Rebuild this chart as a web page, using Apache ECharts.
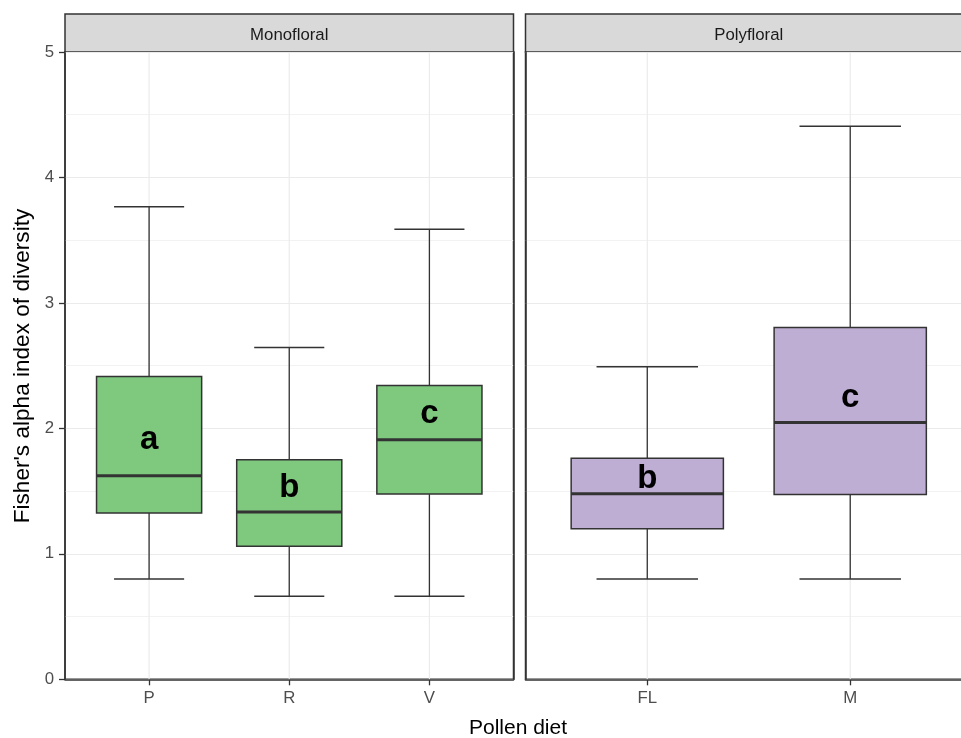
<!DOCTYPE html>
<html>
<head>
<meta charset="utf-8">
<script src="https://cdn.jsdelivr.net/npm/echarts@6/dist/echarts.min.js"></script>
<style>
  html, body { margin: 0; padding: 0; background: #fff; }
  #chart { width: 961px; height: 738px; }
</style>
</head>
<body>
<div id="chart"></div>
<script>
// Fisher's alpha diversity by pollen diet, faceted by Monofloral / Polyfloral
const panelNames = ['Monofloral', 'Polyfloral'];

const monoCats = ['P', 'R', 'V'];
const monoLow = [0.80, 0.662, 0.662];
const monoQ1 = [1.325, 1.061, 1.476];
const monoMed = [1.622, 1.333, 1.910];
const monoQ3 = [2.413, 1.750, 2.341];
const monoHigh = [3.767, 2.644, 3.587];
const monoLetters = ['a', 'b', 'c'];
const monoLetterY = [1.905, 1.525, 2.115];

const polyCats = ['FL', 'M'];
const polyLow = [0.80, 0.80];
const polyQ1 = [1.199, 1.473];
const polyMed = [1.479, 2.047];
const polyQ3 = [1.761, 2.804];
const polyHigh = [2.492, 4.408];
const polyLetters = ['b', 'c'];
const polyLetterY = [1.595, 2.245];

const yTicks = [0, 1, 2, 3, 4, 5];

const GREEN = '#7FC97F';
const PURPLE = '#BEAED4';
const INK = '#333333';
const GRID = '#EBEBEB';
const FONT = 'Liberation Sans, Arial, sans-serif';
const TICK_FONT = 16.8;

function rows(low, q1, med, q3, high, letterY) {
  return low.map((_, i) => [i + 1, low[i], q1[i], med[i], q3[i], high[i], letterY[i]]);
}

function boxRenderer(fill, letters) {
  return function (params, api) {
    const x = api.value(0);
    const lo = api.value(1), q1 = api.value(2), md = api.value(3),
          q3 = api.value(4), hi = api.value(5), ly = api.value(6);
    const c = (xx, yy) => api.coord([xx, yy]);
    const halfBox = 0.375, halfCap = 0.25;
    const pTL = c(x - halfBox, q3), pBR = c(x + halfBox, q1);
    const line = (a, b, w) => ({
      type: 'line', shape: { x1: a[0], y1: a[1], x2: b[0], y2: b[1] },
      style: { stroke: INK, lineWidth: w }
    });
    return {
      type: 'group',
      children: [
        // vertical major grid line through the category
        { type: 'line', shape: { x1: c(x, 0)[0], y1: c(x, 0)[1], x2: c(x, 5)[0], y2: c(x, 5)[1] },
          style: { stroke: GRID, lineWidth: 1.2 } },
        line(c(x, lo), c(x, q1), 1.3),
        line(c(x, q3), c(x, hi), 1.3),
        line(c(x - halfCap, lo), c(x + halfCap, lo), 1.5),
        line(c(x - halfCap, hi), c(x + halfCap, hi), 1.5),
        { type: 'rect',
          shape: { x: pTL[0], y: pTL[1], width: pBR[0] - pTL[0], height: pBR[1] - pTL[1] },
          style: { fill: fill, stroke: INK, lineWidth: 1.5 } },
        line(c(x - halfBox, md), c(x + halfBox, md), 3),
        { type: 'text',
          style: { x: c(x, ly)[0], y: c(x, ly)[1], text: letters[params.dataIndex],
                   fill: '#000', font: 'bold 33px ' + FONT, align: 'center', verticalAlign: 'middle' } }
      ]
    };
  };
}

function xAxisFor(cats, gridIndex) {
  const ticks = cats.map((_, i) => i + 1);
  return {
    type: 'value', gridIndex: gridIndex, min: 0.4, max: cats.length + 0.6,
    axisLine: { show: true, onZero: false, lineStyle: { color: INK, width: 1.5 } },
    splitLine: { show: false },
    axisTick: { show: true, customValues: ticks, length: 6, lineStyle: { color: INK, width: 1.3 } },
    axisLabel: { show: true, customValues: ticks, margin: 11, color: '#4D4D4D', fontSize: TICK_FONT, fontFamily: FONT,
                 formatter: v => cats[Math.round(v) - 1] }
  };
}

function yAxisFor(gridIndex, labels) {
  return {
    type: 'value', gridIndex: gridIndex, min: yTicks[0], max: yTicks[yTicks.length - 1], interval: 1,
    axisLine: { show: true, onZero: false, lineStyle: { color: INK, width: 1.5 } },
    axisTick: { show: labels, length: 6, lineStyle: { color: INK, width: 1.3 } },
    axisLabel: { show: labels, margin: 11, color: '#4D4D4D', fontSize: TICK_FONT, fontFamily: FONT },
    splitLine: { show: true, lineStyle: { color: GRID, width: 1.2 } },
    minorTick: { show: false, splitNumber: 2 },
    minorSplitLine: { show: true, lineStyle: { color: '#F2F2F2', width: 1 } }
  };
}

// plain line along the right edge of the first panel (panel border)
function rightEdgeAxis(gridIndex) {
  return {
    type: 'value', gridIndex: gridIndex, position: 'right', min: yTicks[0], max: yTicks[yTicks.length - 1],
    axisLine: { show: true, onZero: false, lineStyle: { color: INK, width: 1.5 } },
    axisTick: { show: false }, axisLabel: { show: false }, splitLine: { show: false }
  };
}

const chart = echarts.init(document.getElementById('chart'), null, { renderer: 'canvas' });

const left0 = 65, right0 = 513.5, left1 = 525.5, right1 = 972;
const panelTop = 52, panelBottom = 679.3, stripTop = 14;

chart.setOption({
  animation: false,
  backgroundColor: '#ffffff',
  grid: [
    { left: left0, width: right0 - left0, top: panelTop, height: panelBottom - panelTop,
      outerBoundsMode: 'none',
      show: true, borderColor: INK, borderWidth: 1.5, backgroundColor: '#fff' },
    { left: left1, width: right1 - left1, top: panelTop, height: panelBottom - panelTop,
      outerBoundsMode: 'none',
      show: true, borderColor: INK, borderWidth: 1.5, backgroundColor: '#fff' }
  ],
  xAxis: [xAxisFor(monoCats, 0), xAxisFor(polyCats, 1)],
  yAxis: [yAxisFor(0, true), yAxisFor(1, false), rightEdgeAxis(0)],
  series: [
    { type: 'custom', xAxisIndex: 0, yAxisIndex: 0,
      data: rows(monoLow, monoQ1, monoMed, monoQ3, monoHigh, monoLetterY),
      renderItem: boxRenderer(GREEN, monoLetters) },
    { type: 'custom', xAxisIndex: 1, yAxisIndex: 1,
      data: rows(polyLow, polyQ1, polyMed, polyQ3, polyHigh, polyLetterY),
      renderItem: boxRenderer(PURPLE, polyLetters) }
  ],
  graphic: [
    // facet strips
    { type: 'rect', shape: { x: left0, y: stripTop, width: right0 - left0, height: panelTop - stripTop },
      style: { fill: '#D9D9D9', stroke: INK, lineWidth: 1.5 } },
    { type: 'rect', shape: { x: left1, y: stripTop, width: right1 - left1, height: panelTop - stripTop },
      style: { fill: '#D9D9D9', stroke: INK, lineWidth: 1.5 } },
    { type: 'text', x: (left0 + right0) / 2, y: 35,
      style: { text: panelNames[0], fill: '#1A1A1A', font: TICK_FONT + 'px ' + FONT, align: 'center', verticalAlign: 'middle' } },
    { type: 'text', x: (left1 + right1) / 2, y: 35,
      style: { text: panelNames[1], fill: '#1A1A1A', font: TICK_FONT + 'px ' + FONT, align: 'center', verticalAlign: 'middle' } },
    // axis titles
    { type: 'text', x: 518, y: 728,
      style: { text: 'Pollen diet', fill: '#000', font: '21px ' + FONT, align: 'center', verticalAlign: 'middle' } },
    { type: 'text', x: 23, y: 366, rotation: Math.PI / 2,
      style: { text: "Fisher's alpha index of diversity", fill: '#000', font: '22.6px ' + FONT,
               align: 'center', verticalAlign: 'middle' } }
  ]
});
</script>
</body>
</html>
